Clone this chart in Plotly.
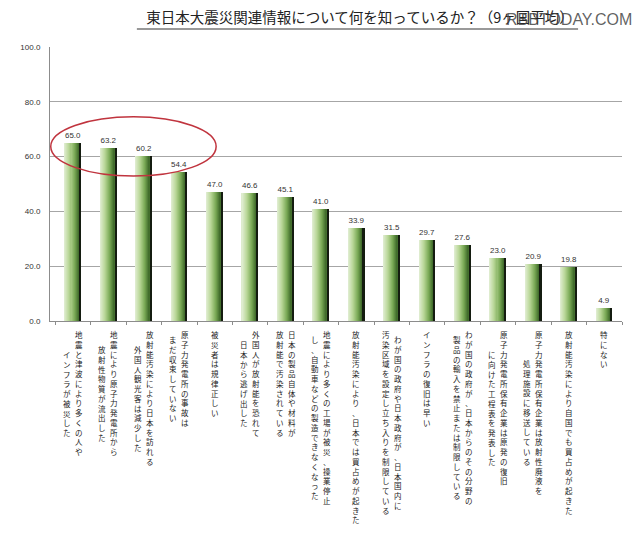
import plotly.graph_objects as go

# Category labels: "\n" separates the vertical columns (first column is the rightmost)
categories = [
    "地震と津波により多くの人や\nインフラが被災した",
    "地震により原子力発電所から\n放射性物質が流出した",
    "放射能汚染により日本を訪れる\n外国人観光客は減少した",
    "原子力発電所の事故は\nまだ収束していない",
    "被災者は規律正しい",
    "外国人が放射能を恐れて\n日本から逃げ出した",
    "日本の製品自体や材料が\n放射能で汚染されている",
    "地震により多くの工場が被災、操業停止\nし、自動車などの製造できなくなった",
    "放射能汚染により、日本では買占めが起きた",
    "わが国の政府や日本政府が、日本国内に\n汚染区域を設定し立ち入りを制限している",
    "インフラの復旧は早い",
    "わが国の政府が、日本からのその分野の\n製品の輸入を禁止または制限している",
    "原子力発電所保有企業は原発の復旧\nに向けた工程表を発表した",
    "原子力発電所保有企業は放射性廃液を\n処理施設に移送している",
    "放射能汚染により自国でも買占めが起きた",
    "特にない",
]
values = [65.0, 63.2, 60.2, 54.4, 47.0, 46.6, 45.1, 41.0,
          33.9, 31.5, 29.7, 27.6, 23.0, 20.9, 19.8, 4.9]
y_ticks = [0, 20, 40, 60, 80, 100]

TITLE = "東日本大震災関連情報について何を知っているか？（9ヶ国平均）"
JP_FONT = "Noto Sans CJK JP"
NUM_FONT = "Liberation Sans"

# the page body has an 8px margin, so the figure is placed 8px in from the window corner
OFF = 8
ML, MT = 36 - OFF, 47 - OFF
MR = 640 - (622 - OFF)
MB = 538 - (321 - OFF)
PLOT_W = 640 - ML - MR
PLOT_H = 538 - MT - MB


def px_x(x):   # window pixel -> paper x
    return (x - OFF - ML) / PLOT_W


def px_y(y):   # window pixel -> paper y
    return (538 - MB - (y - OFF)) / PLOT_H


fig = go.Figure()

# bar geometry (category units)
BODY_W = 0.40
SHADOW_W = 0.06
TOTAL_W = BODY_W + SHADOW_W
start = -TOTAL_W / 2

# invisible carrier for the value labels
fig.add_trace(go.Bar(
    x=categories, y=values, width=TOTAL_W, offset=start,
    marker=dict(color="rgba(0,0,0,0)", line=dict(width=0)),
    text=[f"{v:.1f}" for v in values], textposition="outside",
    textfont=dict(family=NUM_FONT, size=8, color="#333333"),
    cliponaxis=False, hoverinfo="skip", showlegend=False,
))

# horizontal gradient: light green -> dark green
stops = [(0.0, (226, 239, 212)), (0.35, (184, 214, 150)),
         (0.7, (120, 168, 84)), (1.0, (60, 102, 40))]


def grad(t):
    for (t0, c0), (t1, c1) in zip(stops[:-1], stops[1:]):
        if t <= t1:
            f = (t - t0) / (t1 - t0)
            return "rgb(%d,%d,%d)" % tuple(round(a + (b - a) * f) for a, b in zip(c0, c1))
    return "rgb(%d,%d,%d)" % stops[-1][1]


N = 14
slice_w = BODY_W / N
for k in range(N):
    fig.add_trace(go.Bar(
        x=categories, y=values, width=slice_w * 1.15, offset=start + k * slice_w,
        marker=dict(color=grad((k + 0.5) / N), line=dict(width=0)),
        hovertemplate="%{y:.1f}<extra></extra>", showlegend=False,
    ))

# dark shadow on the right edge
fig.add_trace(go.Bar(
    x=categories, y=values, width=SHADOW_W, offset=start + BODY_W,
    marker=dict(color="#141c10", line=dict(width=0)),
    hoverinfo="skip", showlegend=False,
))

# vertical (tategaki) category labels, one annotation per column
FS = 7.5
PITCH = FS * 1.3
TOP_GAP = 6
annotations = []
for cat in categories:
    cols = cat.split("\n")
    nmax = max(len(c) for c in cols)
    for j, col in enumerate(cols):
        if len(cols) == 2:
            xs = 6 if j == 0 else -6
        else:
            xs = 0
        annotations.append(dict(
            x=cat, xref="x", y=0, yref="paper",
            text="<br>".join(col), showarrow=False,
            xanchor="center", yanchor="top", align="center",
            xshift=xs, yshift=-(TOP_GAP + (nmax - len(col)) * PITCH / 2),
            font=dict(family=JP_FONT, size=FS, color="#222222"),
        ))

# watermark
annotations.append(dict(
    x=px_x(634), xref="paper", y=px_y(OFF + 1), yref="paper",
    text="RBBTODAY.COM", showarrow=False, xanchor="right", yanchor="top",
    font=dict(family=NUM_FONT, size=16, color="rgba(70,70,70,0.85)"),
))

shapes = [
    # red ellipse around the top three
    dict(type="circle", xref="x", yref="y", x0=-0.63, x1=4.04, y0=52.9, y1=74.5,
         line=dict(color="rgb(192,52,62)", width=1.5)),
    # title underline
    dict(type="line", xref="paper", yref="paper",
         x0=px_x(125), x1=px_x(577), y0=px_y(29), y1=px_y(29),
         line=dict(color="#777777", width=1.5)),
]

fig.update_layout(
    width=640, height=538,
    margin=dict(l=ML, r=MR, t=MT, b=MB),
    paper_bgcolor="white", plot_bgcolor="white",
    barmode="overlay", bargap=0,
    title=dict(text=TITLE, x=(360 - OFF) / 640, xanchor="center",
               y=1 - 5 / 538, yanchor="top",
               font=dict(family=JP_FONT, size=14.5, color="#222222")),
    annotations=annotations, shapes=shapes,
    xaxis=dict(showticklabels=False, showline=True, linecolor="#8c8c8c", linewidth=1,
               ticks="outside", tickson="boundaries", ticklen=3, tickcolor="#8c8c8c",
               showgrid=False, fixedrange=True),
    yaxis=dict(range=[0, 100], tickvals=y_ticks, tickformat=".1f",
               showline=True, linecolor="#8c8c8c", linewidth=1,
               showgrid=True, gridcolor="#a6a6a6", gridwidth=1, zeroline=False,
               ticks="", ticklabelstandoff=7,
               tickfont=dict(family=NUM_FONT, size=8, color="#333333"), fixedrange=True),
    showlegend=False,
)

fig.write_html("out.html")
